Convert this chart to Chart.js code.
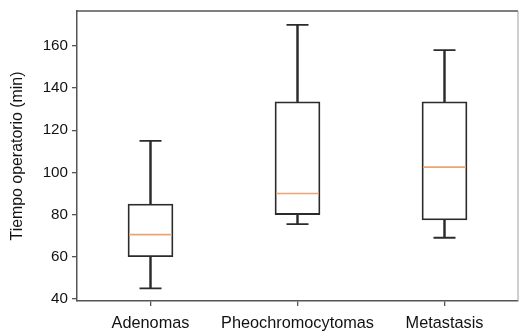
<!DOCTYPE html>
<html>
<head>
<meta charset="utf-8">
<script src="https://cdn.jsdelivr.net/npm/chart.js@4/dist/chart.umd.min.js"></script>
<style>
  html, body { margin: 0; padding: 0; background: #fff; }
  #wrap { width: 519px; height: 334px; position: relative; }
</style>
</head>
<body>
<div id="wrap"><canvas id="c" width="519" height="334"></canvas></div>
<script>
const categories = ['Adenomas', 'Pheochromocytomas', 'Metastasis'];
const whiskerLow = [45, 75.5, 69];
const q1 = [60, 80, 77.5];
const median = [70.5, 90, 102.5];
const q3 = [85, 133.5, 133.5];
const whiskerHigh = [115, 170, 158];
const yTicks = [40, 60, 80, 100, 120, 140, 160];
const yTitle = 'Tiempo operatorio (min)';

const LINE = '#2b2b2b';
const AXIS = '#555555';
const MED = '#eba474';
const FAMILY = 'Liberation Sans, Arial, Helvetica, sans-serif';
const X_FONT = { family: FAMILY, size: 16.3 };
const Y_FONT = { family: FAMILY, size: 15.2 };
const T_FONT = { family: FAMILY, size: 15.9 };

const frame = {
  id: 'frame',
  afterDatasetsDraw(chart) {
    const a = chart.chartArea, ctx = chart.ctx;
    ctx.save();
    ctx.strokeStyle = AXIS;
    ctx.lineWidth = 1.5;
    ctx.beginPath();
    ctx.moveTo(a.left, a.top);
    ctx.lineTo(a.right, a.top);
    ctx.stroke();
    ctx.strokeStyle = '#a0a0a0';
    ctx.lineWidth = 1;
    ctx.beginPath();
    ctx.moveTo(a.right, a.top);
    ctx.lineTo(a.right, a.bottom);
    ctx.stroke();
    ctx.restore();
  }
};

new Chart(document.getElementById('c'), {
  type: 'bar',
  data: {
    labels: categories,
    datasets: [
      {
        type: 'bar', label: 'upper whisker',
        data: q3.map((v, i) => [v, whiskerHigh[i]]),
        backgroundColor: LINE, borderWidth: 0,
        barThickness: 1.8, grouped: false, order: 5
      },
      {
        type: 'bar', label: 'lower whisker',
        data: whiskerLow.map((v, i) => [v, q1[i]]),
        backgroundColor: LINE, borderWidth: 0,
        barThickness: 1.8, grouped: false, order: 5
      },
      {
        type: 'bar', label: 'box',
        data: q1.map((v, i) => [v, q3[i]]),
        backgroundColor: '#ffffff', borderColor: LINE, borderWidth: 1.8,
        borderSkipped: false, barThickness: 45, grouped: false, order: 3
      },
      {
        type: 'line', label: 'max cap', data: whiskerHigh, showLine: false,
        pointStyle: 'line', pointRadius: 11, pointBorderWidth: 1.8,
        pointBorderColor: LINE, borderColor: LINE, order: 1
      },
      {
        type: 'line', label: 'min cap', data: whiskerLow, showLine: false,
        pointStyle: 'line', pointRadius: 11, pointBorderWidth: 1.8,
        pointBorderColor: LINE, borderColor: LINE, order: 1
      },
      {
        type: 'line', label: 'median', data: median, showLine: false,
        pointStyle: 'line', pointRadius: 21.5, pointBorderWidth: 1.6,
        pointBorderColor: MED, borderColor: MED, order: 0
      }
    ]
  },
  options: {
    responsive: false,
    animation: false,
    events: [],
    layout: { autoPadding: false, padding: { left: 0, right: 1, top: 11, bottom: 0 } },
    plugins: { legend: { display: false }, tooltip: { enabled: false } },
    scales: {
      x: {
        type: 'category',
        offset: true,
        grid: { display: true, offset: false, drawOnChartArea: false, drawTicks: true, tickLength: 5, tickColor: AXIS, lineWidth: 1.3 },
        border: { display: true, color: AXIS, width: 1.5 },
        ticks: { color: '#111', font: X_FONT, padding: 8, maxRotation: 0, autoSkip: false },
        afterFit(s) { s.height = 33; s.paddingLeft = 0; s.paddingRight = 0; }
      },
      y: {
        min: 39,
        max: 176.6,
        grid: { display: true, drawOnChartArea: false, drawTicks: true, tickLength: 5, tickColor: AXIS, lineWidth: 1.3 },
        border: { display: true, color: AXIS, width: 1.5 },
        ticks: { color: '#111', font: Y_FONT, padding: 4 },
        afterBuildTicks(s) { s.ticks = yTicks.map(v => ({ value: v })); },
        title: { display: true, text: yTitle, color: '#111', font: T_FONT, padding: { top: 8, bottom: 0 } },
        afterFit(s) { s.width = 77; s.paddingTop = 0; s.paddingBottom = 0; }
      }
    }
  },
  plugins: [frame]
});
</script>
</body>
</html>
